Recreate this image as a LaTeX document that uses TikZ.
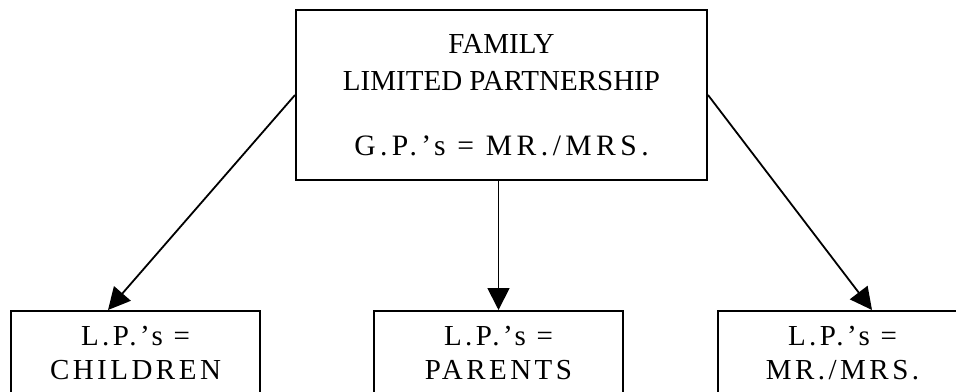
\documentclass[tikz,border=0pt]{standalone}
\usepackage{fontspec}
\setmainfont{Liberation Serif}
\newfontfamily\spacedfont[LetterSpace=12]{Liberation Serif}
\newfontfamily\widefont[LetterSpace=15]{Liberation Serif}
\usetikzlibrary{arrows.meta}

\begin{document}
\begin{tikzpicture}[x=0.5pt, y=-0.5pt,
    box/.style={draw, line width=1pt, align=center, inner sep=0pt},
    link/.style={line width=0.9pt, -{Triangle[length=11pt, width=11pt]}}]
    \useasboundingbox (0,0) rectangle (956,391);
    \clip (0,0) rectangle (956,391);
    \node[box, minimum width=205.5pt, minimum height=85pt,
        font=\fontsize{14.5}{18.5}\selectfont] (flp) at (501.5,95)
        {FAMILY\\ LIMITED PARTNERSHIP\\[14pt]
        {\widefont\fontsize{14.8}{18.5}\selectfont G.P.’s = MR./MRS.}};
    \foreach[count=\i] \x/\who in {135.5/CHILDREN, 498.5/PARENTS, 842.5/{MR./MRS.}} {
        \node[box, minimum width=124.5pt, minimum height=42pt,
            font=\spacedfont\fontsize{14.5}{17}\selectfont] (lp-\i)
            at (\x,353) {L.P.’s =\\ \who};
    }
    \draw[link] (flp.west) -- ([xshift=-13.75pt]lp-1.north);
    \draw[link] (flp.south -| lp-2.north) -- (lp-2.north);
    \draw[link] (flp.east) -- ([xshift=14.75pt]lp-3.north);
\end{tikzpicture}
\end{document}
